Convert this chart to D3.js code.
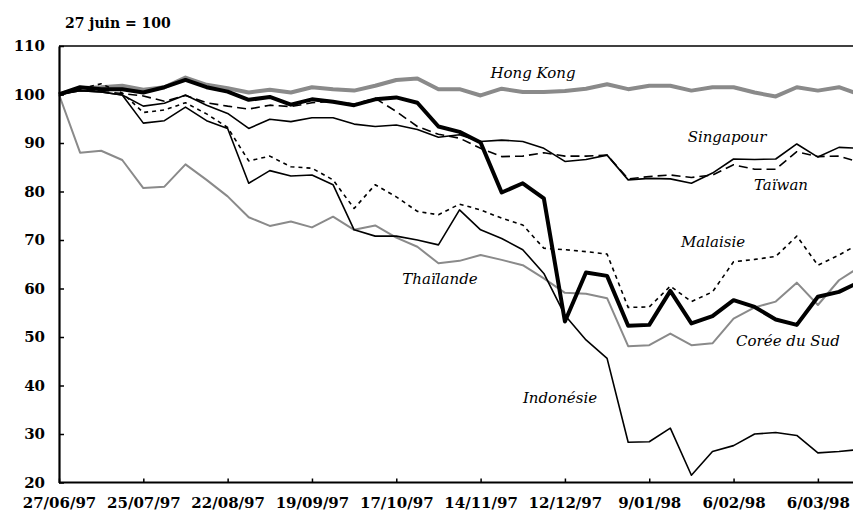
<!DOCTYPE html>
<html lang="fr">
<head>
<meta charset="utf-8">
<title>Bourses asiatiques, 27 juin = 100</title>
<script src="https://d3js.org/d3.v7.min.js"></script>
<style>
  body { margin: 0; background: #fff; }
  svg { display: block; }
  .tick text { font-family: "DejaVu Serif", serif; font-weight: bold; font-size: 15px; fill: #000; }
  .lbl { font-family: "DejaVu Serif", serif; font-style: italic; font-size: 15px; fill: #000; }
</style>
</head>
<body>
<script>
// weekly closes, index 27/06/97 = 100 (week 0 .. 38)
const tickLabels = ["27/06/97","25/07/97","22/08/97","19/09/97","17/10/97","14/11/97","12/12/97","9/01/98","6/02/98","6/03/98"];
const tickWeeks  = [0, 4, 8, 12, 16, 20, 24, 28, 32, 36];

const hongKong  = [100,101.3,101.5,101.8,101.0,101.5,103.5,102.0,101.3,100.4,101.0,100.4,101.5,101.1,100.8,101.8,103.0,103.3,101.1,101.1,99.8,101.2,100.5,100.5,100.7,101.2,102.1,101.1,101.8,101.8,100.8,101.5,101.5,100.4,99.6,101.5,100.8,101.5,100.0];
const thailande = [100,88.0,88.4,86.5,80.7,81.0,85.6,82.4,79.0,74.7,72.9,73.8,72.6,74.8,72.1,73.0,70.5,68.6,65.2,65.7,66.9,65.9,64.8,62.1,59.1,58.9,58.0,48.1,48.3,50.7,48.3,48.7,53.8,56.1,57.3,61.2,56.6,61.7,64.5];
const singapour = [100,100.8,100.5,99.9,97.6,98.2,99.9,97.8,96.1,93.0,94.9,94.4,95.2,95.2,93.9,93.4,93.7,92.8,91.2,91.7,90.3,90.6,90.3,88.9,86.2,86.6,87.5,82.4,82.7,82.6,81.7,83.8,86.7,86.6,86.7,89.8,87.1,89.1,88.9];
const taiwan    = [100,101.0,100.6,100.2,99.7,98.6,99.8,98.3,97.6,97.0,97.8,97.5,98.3,98.6,98.0,99.2,96.5,93.4,91.8,91.0,88.9,87.2,87.3,88.0,87.3,87.3,87.5,82.6,83.1,83.4,82.9,83.4,85.5,84.6,84.6,88.2,87.2,87.3,86.0];
const malaisie  = [100,101.2,102.2,100.3,96.3,96.8,98.3,96.0,93.2,86.3,87.3,85.1,84.8,82.4,76.5,81.4,78.9,75.9,75.2,77.4,76.2,74.5,73.1,68.3,68.0,67.6,67.1,56.1,56.2,60.5,57.3,59.3,65.5,66.0,66.6,70.8,64.8,66.9,69.3];
const indonesie = [100,100.8,100.5,99.9,94.1,94.6,97.4,94.6,93.0,81.7,84.3,83.2,83.4,81.4,72.1,70.8,70.8,70.0,69.0,76.2,72.1,70.3,68.0,63.1,54.5,49.4,45.6,28.3,28.4,31.2,21.5,26.4,27.6,30.0,30.3,29.7,26.1,26.4,26.8];
const coree     = [100,101.5,101.1,101.1,100.4,101.5,103.0,101.5,100.6,98.9,99.5,97.9,99.0,98.5,97.8,99.0,99.4,98.3,93.4,92.3,90.1,79.8,81.7,78.6,53.2,63.3,62.6,52.3,52.5,59.5,52.8,54.3,57.6,56.2,53.6,52.5,58.3,59.3,61.4];

const width = 853, height = 512;
const plotLeft = 59, plotTop = 46, plotBottom = 482.5, step = 21.08;

const svg = d3.select("body").append("svg")
    .attr("width", width)
    .attr("height", height);

const xScale = d3.scaleLinear()
    .domain([0, hongKong.length - 1])
    .range([plotLeft, plotLeft + step * (hongKong.length - 1)]);

const yScale = d3.scaleLinear()
    .domain([20, 110])
    .range([plotBottom, plotTop]);

// frame top line
svg.append("line")
    .attr("x1", plotLeft).attr("x2", width)
    .attr("y1", plotTop).attr("y2", plotTop)
    .attr("stroke", "#000").attr("stroke-width", 1.5);

const series = [
  {name: "Hong Kong",    values: hongKong,  color: "#8a8a8a", w: 4,   dash: null,  lx: 533, ly: 73},
  {name: "Thaïlande",    values: thailande, color: "#8a8a8a", w: 2,   dash: null,  lx: 440, ly: 279},
  {name: "Singapour",    values: singapour, color: "#000",    w: 1.6, dash: null,  lx: 727, ly: 137},
  {name: "Taïwan",       values: taiwan,    color: "#000",    w: 1.6, dash: "9,5", lx: 781, ly: 185},
  {name: "Malaisie",     values: malaisie,  color: "#000",    w: 1.6, dash: "4,4", lx: 713, ly: 242},
  {name: "Indonésie",    values: indonesie, color: "#000",    w: 1.6, dash: null,  lx: 560, ly: 398},
  {name: "Corée du Sud", values: coree,     color: "#000",    w: 4,   dash: null,  lx: 788, ly: 341}
];

const line = d3.line()
    .x((d, i) => xScale(i))
    .y(d => yScale(d));

series.forEach(s => {
  svg.append("path")
    .datum(s.values)
    .attr("d", line)
    .attr("fill", "none")
    .attr("stroke", s.color)
    .attr("stroke-width", s.w)
    .attr("stroke-linejoin", "round")
    .attr("stroke-dasharray", s.dash);

  svg.append("text")
    .attr("class", "lbl")
    .attr("x", s.lx).attr("y", s.ly)
    .attr("dy", "0.35em")
    .attr("text-anchor", "middle")
    .text(s.name);
});

const yAxis = d3.axisLeft(yScale)
    .tickValues(d3.range(20, 111, 10))
    .tickSize(-5).tickSizeOuter(0).tickPadding(14);

const xAxis = d3.axisBottom(xScale)
    .tickValues(tickWeeks)
    .tickFormat((d, i) => tickLabels[i])
    .tickSize(-4).tickSizeOuter(0).tickPadding(15);

const gx = svg.append("g")
    .attr("transform", "translate(0," + plotBottom + ")")
    .call(xAxis);
gx.select(".domain").attr("d", "M" + plotLeft + ",0H" + width).attr("stroke-width", 2);
gx.selectAll(".tick line").attr("stroke-width", 1.5);

const gy = svg.append("g")
    .attr("transform", "translate(" + plotLeft + ",0)")
    .call(yAxis);
gy.select(".domain").attr("stroke-width", 2.2);
gy.selectAll(".tick line").attr("stroke-width", 1.5);

svg.append("text")
    .attr("x", 65).attr("y", 23)
    .attr("dy", "0.35em")
    .style("font-family", "DejaVu Serif, serif")
    .style("font-weight", "bold")
    .style("font-size", "14px")
    .text("27 juin = 100");
</script>
</body>
</html>
